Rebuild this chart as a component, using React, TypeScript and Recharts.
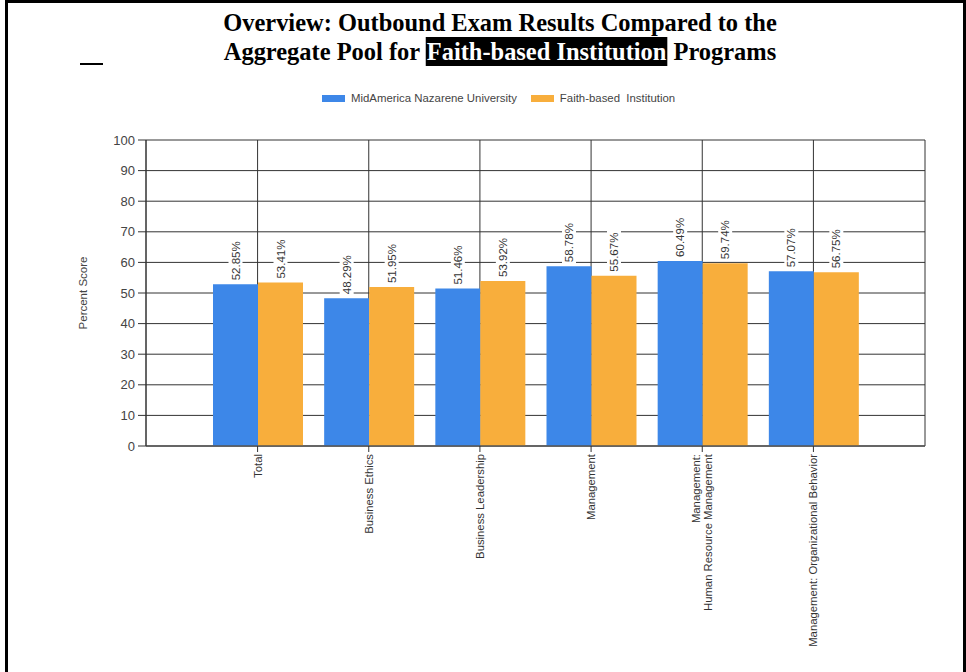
import React from 'react'
import {
  BarChart,
  Bar,
  XAxis,
  YAxis,
  CartesianGrid,
  LabelList,
} from 'recharts'

const categories = [
  'Total',
  'Business Ethics',
  'Business Leadership',
  'Management',
  'Management:\nHuman Resource Management',
  'Management: Organizational Behavior',
]
const mnuScores = [52.85, 48.29, 51.46, 58.78, 60.49, 57.07]
const faithScores = [53.41, 51.95, 53.92, 55.67, 59.74, 56.75]
const yTicks = [0, 10, 20, 30, 40, 50, 60, 70, 80, 90, 100]
const seriesNames = ['MidAmerica Nazarene University', 'Faith-based  Institution']

const BLUE = '#3d87e8'
const ORANGE = '#f8ae3c'
const SANS = 'Liberation Sans, Arial, sans-serif'

const data = categories.map((c, i) => ({
  name: c,
  mnu: mnuScores[i],
  faith: faithScores[i],
}))

const CatTick = (props: any) => {
  const { x, y, payload } = props
  const lines = String(payload.value).split('\n')
  const start = 4 - ((lines.length - 1) * 12) / 2
  return (
    <g transform={`translate(${x},${y}) rotate(-90)`}>
      {lines.map((l: string, i: number) => (
        <text
          key={i}
          x={0}
          y={start + i * 12}
          textAnchor="end"
          fontSize={11.3}
          fontFamily={SANS}
          fill="#333"
        >
          {l}
        </text>
      ))}
    </g>
  )
}

const ValueLabel = (props: any) => {
  const { x, y, width, value } = props
  const cx = Number(x) + Number(width) / 2
  const top = Number(y)
  const len = 40
  return (
    <g>
      <rect x={cx - 7} y={top - 4 - len - 2} width={14} height={len + 3} fill="#fff" />
      <text
        transform={`translate(${cx + 4},${top - 4}) rotate(-90)`}
        fontSize={11.5}
        fontFamily={SANS}
        fill="#333"
      >
        {Number(value).toFixed(2)}%
      </text>
    </g>
  )
}

const YTitle = (props: any) => {
  const { viewBox } = props
  const cy = viewBox.y + viewBox.height / 2
  return (
    <text
      transform={`translate(87,${cy}) rotate(-90)`}
      textAnchor="middle"
      fontSize={11.5}
      fontFamily={SANS}
      fill="#444"
    >
      Percent Score
    </text>
  )
}

export default function App() {
  return (
    <div
      style={{
        position: 'absolute',
        left: 0,
        top: 0,
        width: 966,
        height: 672,
        overflow: 'hidden',
        background: '#fff',
      }}
    >
      <div
        style={{
          position: 'absolute',
          left: 5,
          top: 0,
          width: 961,
          height: 720,
          boxSizing: 'border-box',
          border: '3px solid #000',
        }}
      />
      <div
        style={{
          position: 'absolute',
          left: 0,
          top: 8,
          width: 1000,
          textAlign: 'center',
          fontFamily: 'Liberation Serif, Times New Roman, serif',
          fontWeight: 'bold',
          fontSize: 26,
          lineHeight: '29px',
          color: '#000',
          transform: 'scaleX(0.94)',
          transformOrigin: '500px 0',
        }}
      >
        Overview: Outbound Exam Results Compared to the
        <br />
        Aggregate Pool for{' '}
        <span style={{ background: '#000', color: '#fff', padding: '0 1px' }}>
          Faith-based Institution
        </span>{' '}
        Programs
      </div>
      <div
        style={{
          position: 'absolute',
          left: 80,
          top: 63,
          width: 23,
          height: 2,
          background: '#000',
        }}
      />
      <div
        style={{
          position: 'absolute',
          left: 322,
          top: 92,
          display: 'flex',
          alignItems: 'center',
          fontFamily: SANS,
          fontSize: 11.4,
          color: '#444',
          whiteSpace: 'pre',
        }}
      >
        <span style={{ width: 23, height: 7, background: BLUE, marginRight: 6 }} />
        <span style={{ marginRight: 14 }}>{seriesNames[0]}</span>
        <span style={{ width: 23, height: 7, background: ORANGE, marginRight: 6 }} />
        <span>{seriesNames[1]}</span>
      </div>
      <div style={{ position: 'absolute', left: 0, top: 0 }}>
        <BarChart
          width={966}
          height={672}
          data={data}
          margin={{ top: 140, right: 41, bottom: 206, left: 86 }}
          barGap={0}
          barSize={45}
        >
          <CartesianGrid stroke="#333" strokeWidth={1} />
          <XAxis
            dataKey="name"
            height={20}
            interval={0}
            padding={{ left: 56, right: 56 }}
            tick={<CatTick />}
            tickLine={{ stroke: '#333' }}
            tickSize={6}
            axisLine={{ stroke: '#555', strokeWidth: 1.5 }}
          />
          <YAxis
            width={60}
            domain={[0, 100]}
            ticks={yTicks}
            interval={0}
            tickSize={8}
            tickMargin={3}
            tick={{ fontSize: 13, fill: '#444', fontFamily: SANS }}
            tickLine={{ stroke: '#333' }}
            axisLine={{ stroke: '#333' }}
            label={<YTitle />}
          />
          <YAxis
            yAxisId="r"
            orientation="right"
            width={0}
            domain={[0, 100]}
            tick={false}
            tickLine={false}
            axisLine={{ stroke: '#999', strokeWidth: 2 }}
          />
          <Bar dataKey="mnu" name={seriesNames[0]} fill={BLUE} isAnimationActive={false}>
            <LabelList dataKey="mnu" content={<ValueLabel />} />
          </Bar>
          <Bar dataKey="faith" name={seriesNames[1]} fill={ORANGE} isAnimationActive={false}>
            <LabelList dataKey="faith" content={<ValueLabel />} />
          </Bar>
        </BarChart>
      </div>
    </div>
  )
}
